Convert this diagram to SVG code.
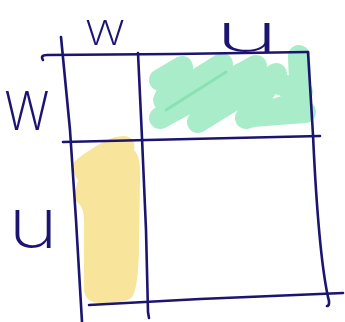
<svg xmlns="http://www.w3.org/2000/svg" width="345" height="322" viewBox="0 0 345 322">
<style>
.pen{fill:none;stroke:#1b1470;stroke-width:2.6;stroke-linecap:round;stroke-linejoin:round}
.lbl{font-family:Inter,"DejaVu Sans",sans-serif;font-weight:200;fill:#1b1470;text-anchor:middle}
</style>
<rect width="345" height="322" fill="#ffffff"/>
<g id="fills">
<path d="M160,80 L182,67 L164,100 L222,64 L160,118 L256,66 L198,122 L276,74 L246,118 L300,102 M299,56 L301,112 M280,84 L302,92 M252,116 L305,112" fill="none" stroke="#a9ecc9" stroke-width="22" stroke-linecap="round" stroke-linejoin="round"/>
<path d="M166,110 L226,72" fill="none" stroke="#8ae2b3" stroke-width="3" stroke-linecap="round"/>
<path d="M123,136 C132,136 136,142 134,150 C139,155 141,165 140,180 L139,240 C139,270 137,290 132,297 C128,302 115,303 100,303 C90,303 85,298 84,290 L84,240 C84,220 85,212 80,205 C74,200 73,195 76,188 L78,180 C74,175 72,167 74,162 C85,152 105,140 115,137 Z" fill="#f8e49b"/>
</g>
<g id="grid">
<path class="pen" d="M43,60 C41,57 42,55 47,55 L175,54 L308,52"/>
<path class="pen" d="M61,37 L70,130 L76,220 L82,322"/>
<path class="pen" d="M138,53 L142,138 L146,230 L148,312 L149,318"/>
<path class="pen" d="M308,52 L313,135 C316,200 320,260 328,297 C330,303 329,306 327,306"/>
<path class="pen" d="M63,142 L190,139 L320,136"/>
<path class="pen" d="M89,305 L200,299 L343,293"/>
</g>
<g id="labels">
<text class="lbl" font-size="46" transform="translate(105,45) scale(1.1,1)">w</text>
<text class="lbl" font-size="53" transform="translate(247,52) scale(2.1,1)">u</text>
<text class="lbl" font-size="72" transform="translate(27,130) scale(0.8,1)">w</text>
<text class="lbl" font-size="69" transform="translate(33,248) scale(1.25,1)">u</text>
</g>
</svg>
